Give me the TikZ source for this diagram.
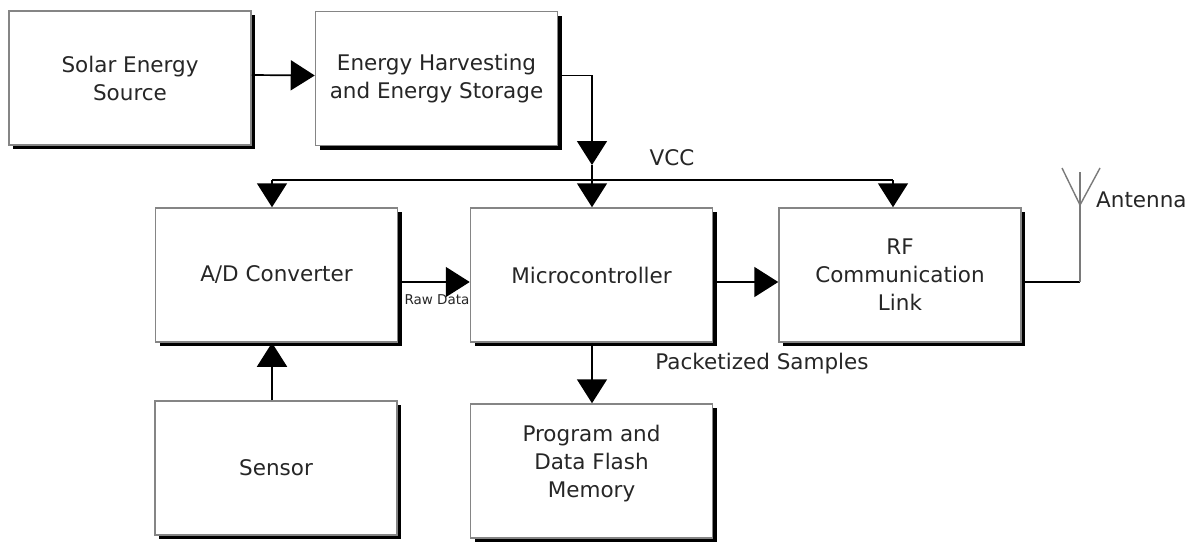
\documentclass[tikz,border=0pt]{standalone}
\usepackage{fontspec}
\setmainfont{DejaVu Sans}
\usetikzlibrary{arrows.meta,shadows}
\definecolor{txt}{HTML}{262626}
\definecolor{bord}{HTML}{858585}
\definecolor{ant}{HTML}{7A7A7A}
\begin{document}
\begin{tikzpicture}[x=1pt,y=-1pt,
  blockbox/.style={draw=bord, line width=1.5pt, fill=white,
    minimum width=242pt, minimum height=134pt, inner sep=0pt,
    align=center, text=txt, font=\fontsize{21.5}{28}\selectfont,
    general shadow={fill=black, shadow xshift=4pt, shadow yshift=-4pt}},
  arr/.style={-{Triangle[length=24pt,width=30pt]}, line width=1.7pt, draw=black},
  wire/.style={line width=1.7pt, draw=black},
  lbl/.style={text=txt, font=\fontsize{21.5}{24}\selectfont, inner sep=0pt}]
\useasboundingbox (0,0) rectangle (1190,542);
\fill[white] (0,0) rectangle (1190,542);

% blocks
\node[blockbox] (solar)  at (130,78)    {Solar Energy\\Source};
\node[blockbox] (harv)   at (436.5,78.5) {Energy Harvesting\\and Energy Storage};
\node[blockbox] (adc)    at (276.5,275) {A/D Converter};
\node[blockbox] (mcu)    at (591.5,275) {Microcontroller};
\node[blockbox] (rf)     at (900,275)   {RF\\Communication\\Link};
\node[blockbox] (sensor) at (276,468)   {Sensor};
\node[blockbox, text depth=20pt] (mem) at (591.5,471) {Program and\\Data Flash\\Memory};

% coordinates
\coordinate (vl) at (272,180);
\coordinate (vm) at (592,180);
\coordinate (vr) at (893,180);
\coordinate (hs) at (592,165);
\coordinate (ant) at (1080,205);
\coordinate (antc) at (1080,282);

% solar -> harvesting
\draw[arr] ([yshift=3pt]solar.east) -- ([yshift=3pt]harv.west);
% harvesting -> VCC bus
\draw[arr] ([yshift=3pt]harv.east) -| (hs);
\draw[wire] (hs) -- (vm);
% VCC bus
\draw[wire] (vl) -- (vr);
\draw[arr] (vl) -- (vl |- adc.north);
\draw[arr] (vm) -- (vm |- mcu.north);
\draw[arr] (vr) -- (vr |- rf.north);
% data path
\draw[arr] ([yshift=-7pt]adc.east) -- ([yshift=-7pt]mcu.west);
\draw[arr] ([yshift=-7pt]mcu.east) -- ([yshift=-7pt]rf.west);
\draw[arr] (vm |- mcu.south) -- (vm |- mem.north);
\draw[arr] (vl |- sensor.north) -- (vl |- adc.south);
% antenna
\draw[wire] ([yshift=-7pt]rf.east) -- (antc);
\draw[draw=ant, line width=1.4pt] (antc) -- (ant);
\coordinate (antt) at (1080,172);
\coordinate (antl) at (1062,168);
\coordinate (antr) at (1100,168);
\draw[draw=ant, line width=1.4pt] (ant) -- (antt);
\draw[draw=ant, line width=1.4pt] (ant) -- (antl);
\draw[draw=ant, line width=1.4pt] (ant) -- (antr);

% labels
\node[lbl] (vcc) at (672,158) {VCC};
\node[lbl, font=\fontsize{13.5}{15}\selectfont] (raw) at (437,300) {Raw Data};
\node[lbl] (pkt) at (762,364) {Packetized Samples};
\node[lbl, anchor=west] (antlbl) at (1096,200) {Antenna};
\end{tikzpicture}
\end{document}
